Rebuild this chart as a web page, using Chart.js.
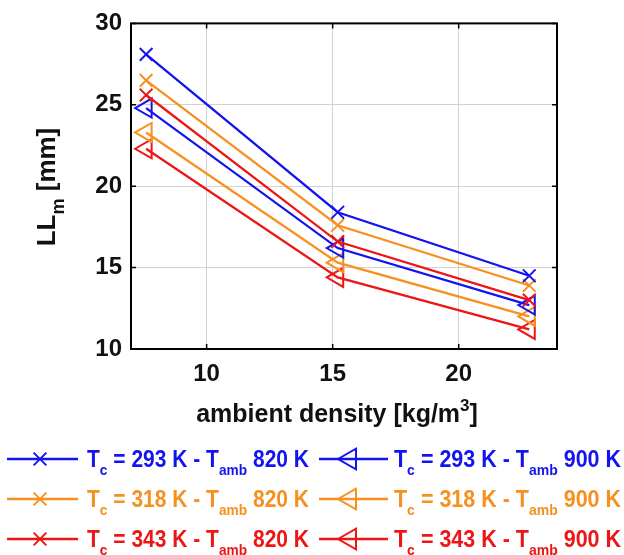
<!DOCTYPE html>
<html>
<head>
<meta charset="utf-8">
<script src="https://cdn.jsdelivr.net/npm/chart.js@4.4.1/dist/chart.umd.min.js"></script>
<style>
  html, body { margin: 0; padding: 0; background: #fff; }
  #wrap { position: relative; width: 624px; height: 555px; }
</style>
</head>
<body>
<div id="wrap"><canvas id="chart" width="624" height="555"></canvas></div>
<script>
// --- données ---
const densities = [7.6, 15.2, 22.8];        // kg/m3
const ll_293_820 = [28.1, 18.4, 14.5];
const ll_318_820 = [26.5, 17.6, 13.9];
const ll_343_820 = [25.6, 16.6, 13.0];
const ll_293_900 = [24.8, 16.2, 12.7];
const ll_318_900 = [23.3, 15.3, 12.0];
const ll_343_900 = [22.3, 14.4, 11.2];
const xTicks = [10, 15, 20];
const yTicks = [10, 15, 20, 25, 30];
const tcLabels = ['293', '318', '343'];
const tambLabels = ['820', '900'];

const BLUE = '#1414f0', ORANGE = '#f7901e', RED = '#ee1515';
const colors = [BLUE, ORANGE, RED];
const FONT = "'Liberation Sans', Arial, Helvetica, sans-serif";

const seriesValues = [
  [ll_293_820, ll_318_820, ll_343_820],
  [ll_293_900, ll_318_900, ll_343_900]
];

// un dataset par couple (Tc, Tamb)
const datasets = [];
tambLabels.forEach((tamb, j) => {
  tcLabels.forEach((tc, i) => {
    datasets.push({
      label: 'Tc = ' + tc + ' K - Tamb ' + tamb + ' K',
      data: densities.map((d, k) => ({ x: d, y: seriesValues[j][i][k] })),
      borderColor: colors[i],
      backgroundColor: 'transparent',
      borderWidth: 2.3,
      pointStyle: j === 0 ? 'crossRot' : 'triangle',
      pointRotation: j === 0 ? 0 : -90,
      pointRadius: j === 0 ? 9 : 11,
      pointBorderWidth: 2,
      pointBackgroundColor: 'transparent',
      pointBorderColor: colors[i],
      tension: 0
    });
  });
});

// petit marqueur pour la légende
function drawMarker(ctx, style, x, y, r) {
  ctx.beginPath();
  if (style === 'crossRot') {
    const o = r * Math.SQRT1_2;
    ctx.moveTo(x - o, y - o); ctx.lineTo(x + o, y + o);
    ctx.moveTo(x - o, y + o); ctx.lineTo(x + o, y - o);
  } else {
    // triangle pointe à gauche
    const rad = -Math.PI / 2;
    for (let k = 0; k < 3; k++) {
      const a = rad + k * 2 * Math.PI / 3;
      const px = x + Math.sin(a) * r, py = y - Math.cos(a) * r;
      if (k === 0) ctx.moveTo(px, py); else ctx.lineTo(px, py);
    }
    ctx.closePath();
  }
  ctx.stroke();
}

// texte avec indice / exposant : parts = [[texte, 'n'|'sub'|'sup'], ...]
function partsWidth(ctx, parts, big, small) {
  let w = 0;
  parts.forEach(p => {
    ctx.font = 'bold ' + (p[1] === 'n' ? big : small) + 'px ' + FONT;
    w += ctx.measureText(p[0]).width;
  });
  return w;
}
function drawParts(ctx, parts, x, y, big, small, subDy, supDy) {
  parts.forEach(p => {
    ctx.font = 'bold ' + (p[1] === 'n' ? big : small) + 'px ' + FONT;
    const dy = p[1] === 'sub' ? subDy : (p[1] === 'sup' ? -supDy : 0);
    ctx.fillText(p[0], x, y + dy);
    x += ctx.measureText(p[0]).width;
  });
}

const figurePlugin = {
  id: 'figure',
  afterDatasetsDraw(chart) {
    const { ctx, chartArea: a, scales: { x, y } } = chart;
    ctx.save();
    // cadre
    ctx.strokeStyle = '#000';
    ctx.lineWidth = 2;
    ctx.strokeRect(a.left, a.top, a.right - a.left, a.bottom - a.top);
    // graduations vers l'intérieur
    ctx.lineWidth = 1.5;
    ctx.beginPath();
    xTicks.forEach(v => {
      const px = x.getPixelForValue(v);
      ctx.moveTo(px, a.bottom); ctx.lineTo(px, a.bottom - 5);
      ctx.moveTo(px, a.top); ctx.lineTo(px, a.top + 5);
    });
    yTicks.forEach(v => {
      const py = y.getPixelForValue(v);
      ctx.moveTo(a.left, py); ctx.lineTo(a.left + 5, py);
      ctx.moveTo(a.right, py); ctx.lineTo(a.right - 5, py);
    });
    ctx.stroke();

    // titres des axes
    ctx.fillStyle = '#111';
    ctx.textBaseline = 'alphabetic';
    ctx.textAlign = 'left';
    const xt = [['ambient density [kg/m', 'n'], ['3', 'sup'], [']', 'n']];
    const xw = partsWidth(ctx, xt, 25, 17);
    drawParts(ctx, xt, 337 - xw / 2, 422, 25, 17, 0, 11);

    const yt = [['LL', 'n'], ['m', 'sub'], [' [mm]', 'n']];
    const yw = partsWidth(ctx, yt, 26, 18);
    ctx.save();
    ctx.translate(55, 187);
    ctx.rotate(-Math.PI / 2);
    drawParts(ctx, yt, -yw / 2, 0, 26, 18, 9, 0);
    ctx.restore();

    // légende sur 2 colonnes
    const cols = [
      { x0: 7, x1: 78, mx: 40, tx: 87, tw: 222, style: 'crossRot', r: 9 },
      { x0: 319, x1: 388, mx: 350, tx: 394, tw: 227, style: 'triangle', r: 12 }
    ];
    tcLabels.forEach((tc, i) => {
      const ly = 459 + i * 40, base = 467 + i * 40;
      cols.forEach((c, j) => {
        ctx.strokeStyle = colors[i];
        ctx.fillStyle = colors[i];
        ctx.lineWidth = 2.3;
        ctx.beginPath();
        ctx.moveTo(c.x0, ly); ctx.lineTo(c.x1, ly);
        ctx.stroke();
        ctx.lineWidth = 2;
        drawMarker(ctx, c.style, c.mx, ly, c.r);
        const parts = [['T', 'n'], ['c', 'sub'], [' = ' + tc + ' K - T', 'n'], ['amb', 'sub'], [' ' + tambLabels[j] + ' K', 'n']];
        const w = partsWidth(ctx, parts, 23, 15);
        ctx.save();
        ctx.translate(c.tx, base);
        ctx.scale(c.tw / w, 1);
        drawParts(ctx, parts, 0, 0, 23, 15, 8, 0);
        ctx.restore();
      });
    });
    ctx.restore();
  }
};

const tickFont = { family: FONT, size: 24, weight: 'bold' };

new Chart(document.getElementById('chart'), {
  type: 'line',
  data: { datasets: datasets },
  options: {
    responsive: false,
    animation: false,
    layout: { padding: { top: 16, right: 67, left: 0, bottom: 166 } },
    plugins: { legend: { display: false }, tooltip: { enabled: false } },
    scales: {
      x: {
        type: 'linear', min: 7, max: 23.9,
        afterBuildTicks: s => { s.ticks = xTicks.map(v => ({ value: v })); },
        afterFit: s => { s.height = 40; },
        grid: { color: '#d2d2d2', lineWidth: 1, drawTicks: false },
        border: { display: false },
        ticks: { padding: 11, font: tickFont, color: '#111', maxRotation: 0 }
      },
      y: {
        type: 'linear', min: 10, max: 30,
        afterBuildTicks: s => { s.ticks = yTicks.map(v => ({ value: v })); },
        afterFit: s => { s.width = 131; },
        grid: { color: '#d2d2d2', lineWidth: 1, drawTicks: false },
        border: { display: false },
        ticks: { padding: 9, font: tickFont, color: '#111' }
      }
    }
  },
  plugins: [figurePlugin]
});
</script>
</body>
</html>
